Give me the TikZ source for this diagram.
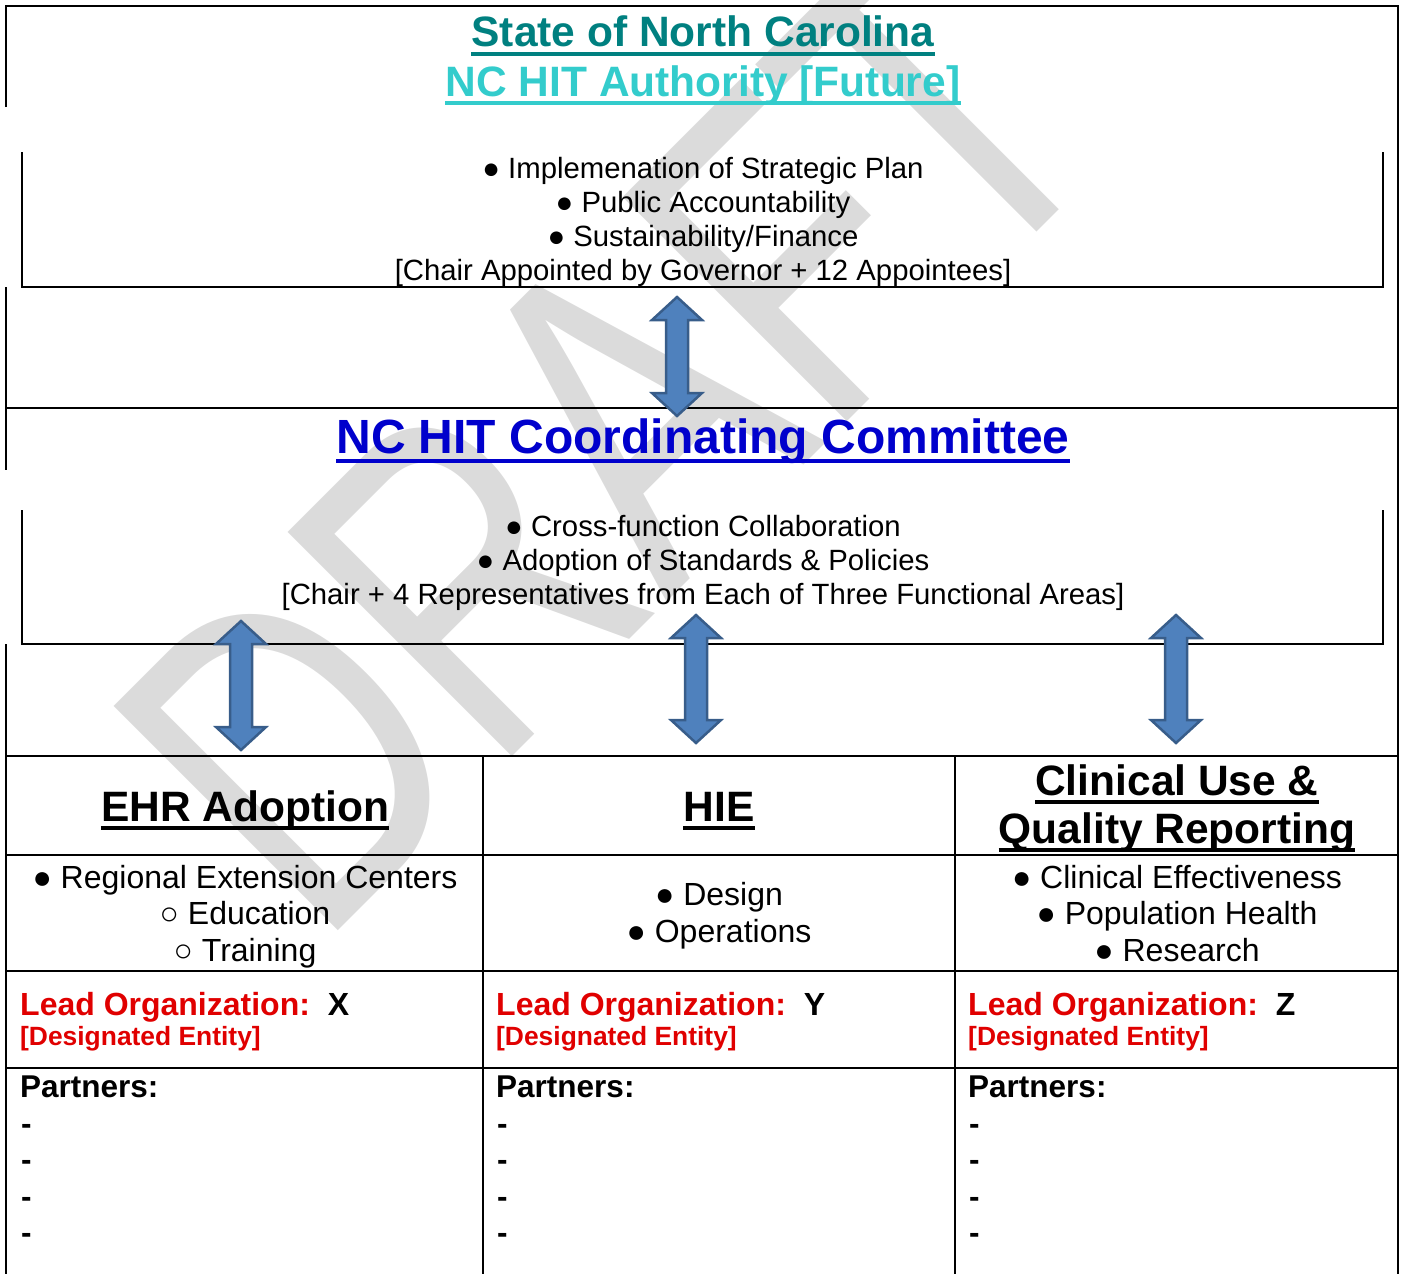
\documentclass[tikz,border=0pt]{standalone}
\usepackage{fontspec}
\setmainfont{Liberation Sans}

\definecolor{titleteal}{RGB}{0,128,128}
\definecolor{titleaqua}{RGB}{51,204,204}
\definecolor{titleblue}{RGB}{0,0,204}
\definecolor{leadred}{RGB}{224,0,0}
\definecolor{arrowfill}{RGB}{79,129,189}
\definecolor{arrowline}{RGB}{56,93,138}
\definecolor{draftgray}{RGB}{219,219,219}

\tikzstyle{tableline}=[line width=2pt]
\tikzstyle{bigtitle}=[font=\bfseries\fontsize{42.5}{50}\selectfont, anchor=base, inner sep=0pt]
\tikzstyle{bodytext}=[font=\fontsize{29.3}{34}\selectfont, anchor=base, inner sep=0pt]
\tikzstyle{celltext}=[font=\fontsize{32}{37}\selectfont, anchor=base, inner sep=0pt]
\tikzstyle{leadtext}=[font=\bfseries\fontsize{32}{37}\selectfont, anchor=base west, inner sep=0pt]
\tikzstyle{blockarrow}=[fill=arrowfill, draw=arrowline, line width=2.5pt]
\tikzstyle{watermark}=[font=\fontsize{461}{461}\selectfont, text=draftgray, anchor=base west, inner sep=0pt, rotate=45, xscale=0.74]

\begin{document}
\begin{tikzpicture}[x=1pt, y=-1pt]
    \useasboundingbox (0,0) rectangle (1401,1274);

    % watermark first, everything else goes over it
    \node[watermark] (draft) at (318,951) {DRAFT};

    % outer frame, the two text boxes and the table
    \draw[tableline] (6,107) -- (6,6) -- (1398,6) -- (1398,1274);
    \draw[tableline] (6,287) -- (6,470);
    \draw[tableline] (6,644) -- (6,1274);
    \draw[tableline] (22,152) -- (22,287) -- (1383,287) -- (1383,152);
    \draw[tableline] (22,510) -- (22,644) -- (1383,644) -- (1383,510);
    \foreach \y in {408, 756, 855, 971, 1068}
        \draw[tableline] (6,\y) -- (1398,\y);
    \foreach \x in {483, 955}
        \draw[tableline] (\x,756) -- (\x,1274);

    % Authority
    \node[bigtitle, text=titleteal] (state) at (703,46.5) {State of North Carolina};
    \node[bigtitle, text=titleaqua] (authority) at (703,96) {NC HIT Authority [Future]};
    \foreach \txt [count=\i] in {{● Implemenation of Strategic Plan}, {● Public Accountability},
                                 {● Sustainability/Finance}, {[Chair Appointed by Governor + 12 Appointees]}}
        \node[bodytext] (auth-\i) at (703,144+34*\i) {\txt};

    % Coordinating Committee
    \node[bigtitle, font=\bfseries\fontsize{48}{56}\selectfont, text=titleblue] (committee) at (703,453) {NC HIT Coordinating Committee};
    \foreach \txt [count=\i] in {{● Cross-function Collaboration}, {● Adoption of Standards \& Policies},
                                 {[Chair + 4 Representatives from Each of Three Functional Areas]}}
        \node[bodytext] (comm-\i) at (703,502+34*\i) {\txt};

    % the three functional areas
    \node[bigtitle] (ehr) at (245,821) {EHR Adoption};
    \node[bigtitle] (hie) at (719,821) {HIE};
    \node[bigtitle] (cqr1) at (1177,795) {Clinical Use \&};
    \node[bigtitle] (cqr2) at (1177,843) {Quality Reporting};

    \foreach \nd/\col/\dy in {state/titleteal/-7pt, authority/titleaqua/-6.5pt, committee/titleblue/-8pt,
                              ehr/black/-6.5pt, hie/black/-6.5pt, cqr1/black/-7pt, cqr2/black/-6.5pt}
        \draw[\col, line width=4pt] ([yshift=\dy]\nd.base west) -- ([yshift=\dy]\nd.base east);

    \foreach \txt [count=\i] in {{● Regional Extension Centers}, {○ Education}, {○ Training}}
        \node[celltext] (ehr-\i) at (245,851.5+36.5*\i) {\txt};
    \foreach \txt [count=\i] in {{● Design}, {● Operations}}
        \node[celltext] (hie-\i) at (719,868+37*\i) {\txt};
    \foreach \txt [count=\i] in {{● Clinical Effectiveness}, {● Population Health}, {● Research}}
        \node[celltext] (cqr-\i) at (1177,851.5+36.5*\i) {\txt};

    % lead organisation and partners per column
    \foreach \cx/\lead [count=\c] in {20/X, 496/Y, 968/Z} {
        \node[leadtext] (lead-\c) at (\cx,1015) {\textcolor{leadred}{Lead Organization:}~~\lead};
        \node[leadtext, font=\bfseries\fontsize{26.4}{30}\selectfont, text=leadred] (entity-\c) at (\cx,1045) {[Designated Entity]};
        \node[leadtext, font=\bfseries\fontsize{31.5}{36}\selectfont] (partners-\c) at (\cx,1097) {Partners:};
        \foreach \i in {0,...,3}
            \node[leadtext, font=\bfseries\fontsize{31.5}{36}\selectfont] (dash-\c-\i) at (\cx+1,1134+36.5*\i) {-};
    }

    % block arrows between the levels
    \foreach \ax/\ya/\yb in {677/297/416, 241/621/750, 696/615/743, 1176/615/743}
        \draw[blockarrow] (\ax,\ya) -- ++(25,23) -- ++(-14,0) -- (\ax+11,\yb-23) -- ++(14,0) -- (\ax,\yb)
                          -- ++(-25,-23) -- ++(14,0) -- (\ax-11,\ya+23) -- ++(-14,0) -- cycle;
\end{tikzpicture}
\end{document}
